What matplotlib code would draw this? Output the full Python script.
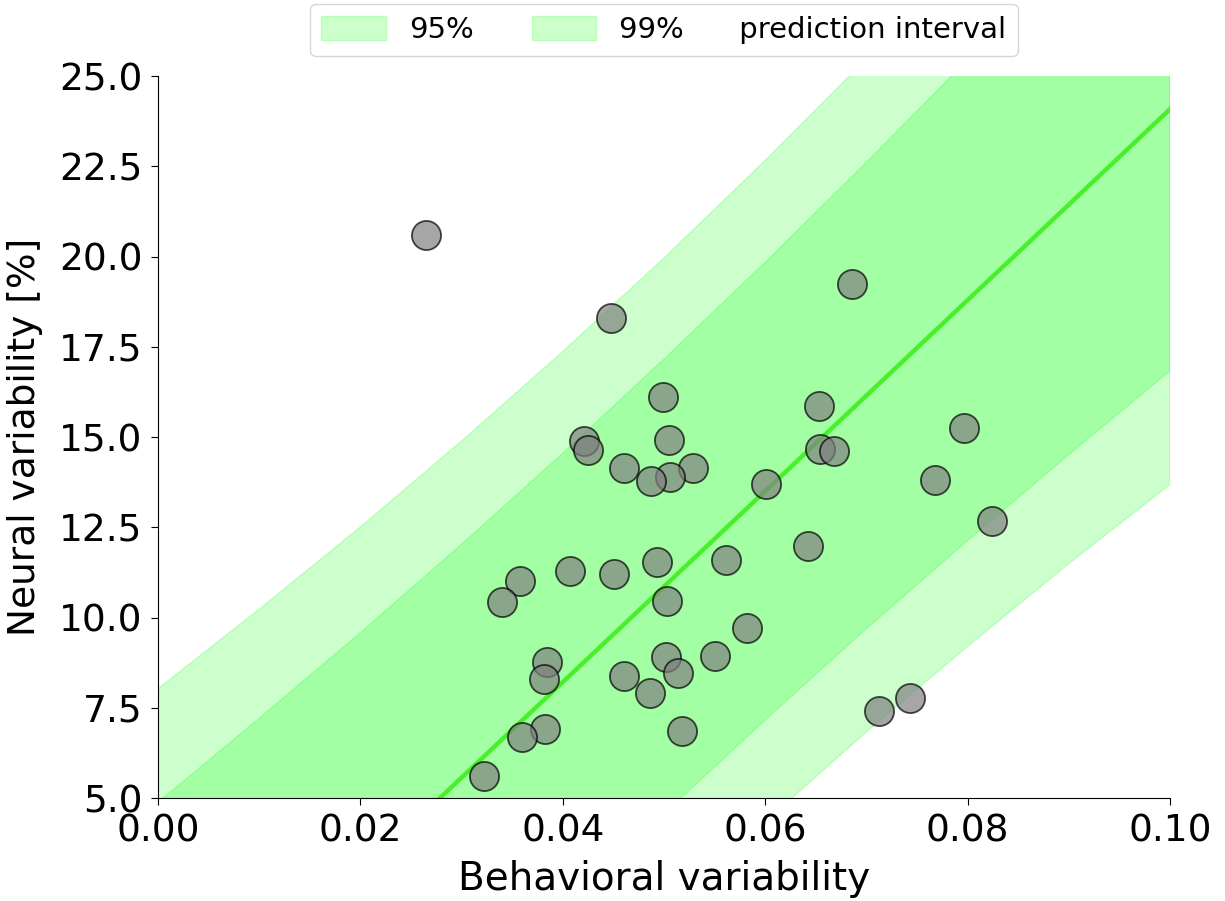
import matplotlib
matplotlib.use('Agg')
import matplotlib.pyplot as plt
import numpy as np

# behavioral vs neural variability, one point per subject
behav = [0.0265, 0.0448, 0.0686, 0.0499, 0.0653, 0.0797, 0.0421, 0.0425,
         0.0505, 0.0461, 0.0529, 0.0506, 0.0487, 0.0654, 0.0668, 0.0601,
         0.0768, 0.0824, 0.0642, 0.0407, 0.0451, 0.0493, 0.0561, 0.0358,
         0.0340, 0.0503, 0.0582, 0.0384, 0.0381, 0.0502, 0.0514, 0.0461,
         0.0550, 0.0486, 0.0713, 0.0743, 0.0382, 0.0360, 0.0518, 0.0322]
neural = [20.59, 18.29, 19.23, 16.10, 15.85, 15.24, 14.88, 14.65,
          14.93, 14.13, 14.13, 13.88, 13.79, 14.68, 14.60, 13.71,
          13.82, 12.68, 11.99, 11.30, 11.21, 11.55, 11.60, 11.02,
          10.44, 10.46, 9.72, 8.77, 8.30, 8.91, 8.47, 8.38,
          8.94, 7.91, 7.41, 7.77, 6.91, 6.69, 6.86, 5.61]

# regression line and prediction bands
fit_x = [0.0, 0.1]
fit_y = [-2.37, 24.08]
band_x = [0.0, 0.01, 0.02, 0.03, 0.04, 0.05, 0.06, 0.07, 0.08, 0.09, 0.1]
upper95 = [4.88, 7.21, 9.58, 12.03, 14.55, 17.16, 19.84, 22.61, 25.45, 28.37, 31.33]
lower95 = [-9.62, -6.66, -3.74, -0.90, 1.87, 4.56, 7.16, 9.69, 12.13, 14.51, 16.83]
upper99 = [8.03, 10.23, 12.51, 14.89, 17.37, 19.96, 22.66, 25.47, 28.38, 31.39, 34.48]
lower99 = [-12.77, -9.68, -6.67, -3.76, -0.95, 1.76, 4.34, 6.83, 9.20, 11.49, 13.68]

xticks = [0.0, 0.02, 0.04, 0.06, 0.08, 0.1]
yticks = [5.0, 7.5, 10.0, 12.5, 15.0, 17.5, 20.0, 22.5, 25.0]

fig = plt.figure(figsize=(12.25, 9.01), dpi=100)
ax = fig.add_axes([0.129, 0.1143, 0.826, 0.8013])

b99 = ax.fill_between(band_x, lower99, upper99, color='lime', alpha=0.2, zorder=1)
b95 = ax.fill_between(band_x, lower95, upper95, color='lime', alpha=0.2, zorder=1)
ax.plot(fit_x, fit_y, color='#48f02a', lw=3.2, zorder=2)
ax.scatter(behav, neural, s=440, c='gray', edgecolors='k', linewidths=1.3,
           alpha=0.7, zorder=3)

ax.set_xlim(0, 0.1)
ax.set_ylim(5, 25)
ax.set_xticks(xticks, ['%.2f' % t for t in xticks])
ax.set_yticks(yticks, ['%.1f' % t for t in yticks])
ax.tick_params(labelsize=27, length=5, pad=6)
ax.spines['top'].set_visible(False)
ax.spines['right'].set_visible(False)
ax.set_xlabel('Behavioral variability', fontsize=28, labelpad=8)
ax.set_ylabel('Neural variability [%]', fontsize=27, labelpad=12)

ax.legend([b95, b99], ['95%', '99%      prediction interval'], ncol=2,
          loc='center', bbox_to_anchor=(0.5, 1.064), fontsize=21,
          handlelength=2.2, handleheight=0.9, columnspacing=2.0)

plt.savefig('out.png', dpi=100)
plt.close()
